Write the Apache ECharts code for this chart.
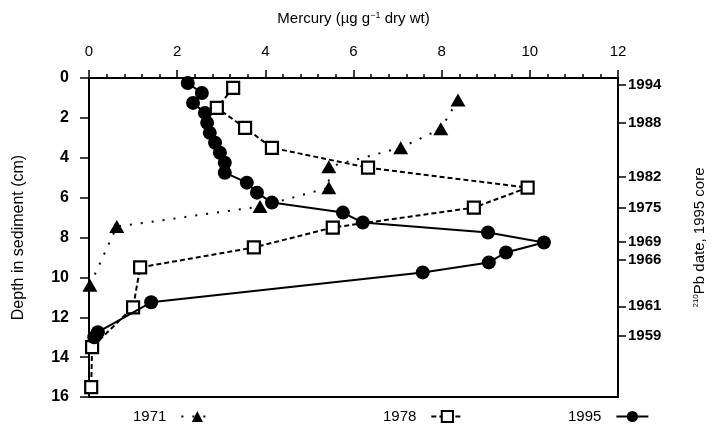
<!DOCTYPE html>
<html>
<head>
<meta charset="utf-8">
<script src="https://cdn.jsdelivr.net/npm/echarts@6/dist/echarts.min.js"></script>
<style>
  html, body { margin: 0; padding: 0; background: #fff; }
  #chart { width: 713px; height: 433px; }
</style>
</head>
<body>
<div id="chart"></div>
<script>
// Mercury profiles in sediment cores (µg g-1 dry wt) against depth (cm)
const mercury1971 = [8.37, 7.98, 7.07, 5.44, 5.44, 3.88, 0.63, 0.02];
const depth1971   = [1.1, 2.55, 3.5, 4.45, 5.5, 6.45, 7.45, 10.4];

const mercury1978 = [3.27, 2.90, 3.54, 4.15, 6.33, 9.95, 8.73, 5.53, 3.74, 1.16, 1.00, 0.07, 0.05];
const depth1978   = [0.5, 1.5, 2.5, 3.5, 4.5, 5.5, 6.5, 7.5, 8.5, 9.5, 11.5, 13.5, 15.5];

const mercury1995 = [2.24, 2.56, 2.36, 2.63, 2.68, 2.74, 2.86, 2.97, 3.08, 3.08,
                     3.58, 3.81, 4.15, 5.76, 6.21, 9.05, 10.32, 9.46, 9.07, 7.57,
                     1.41, 0.20, 0.12];
const depth1995   = [0.25, 0.75, 1.25, 1.75, 2.25, 2.75, 3.25, 3.75, 4.25, 4.75,
                     5.25, 5.75, 6.25, 6.75, 7.25, 7.75, 8.25, 8.75, 9.25, 9.75,
                     11.25, 12.75, 13.0];

// 210Pb dates of the 1995 core and the depths they sit at
const dateYears  = ['1994', '1988', '1982', '1975', '1969', '1966', '1961', '1959'];
const dateDepths = [0.35, 2.25, 4.95, 6.5, 8.2, 9.1, 11.45, 12.95];

const seriesNames = ['1971', '1978', '1995'];

const pairs = (xs, ys) => xs.map((x, i) => [x, ys[i]]);

const chart = echarts.init(document.getElementById('chart'), null, { renderer: 'canvas' });

const baseFont = 'Liberation Sans, Arial, Helvetica, sans-serif';

const legendCommon = {
  orient: 'horizontal',
  align: 'right',
  top: 404,
  itemWidth: 32,
  itemHeight: 14,
  textStyle: { fontFamily: baseFont, fontSize: 15, color: '#000', padding: [0, 10, 0, 0] },
  selectedMode: false
};

chart.setOption({
  backgroundColor: '#fff',
  animation: false,
  grid: { left: 89, right: 95, top: 78, bottom: 36, containLabel: false, outerBoundsMode: 'none' },
  xAxis: [
    {
      type: 'value',
      position: 'top',
      min: 0, max: 12, interval: 2,
      name: 'Mercury (µg g{sup|−1} dry wt)',
      nameLocation: 'middle',
      nameGap: 51,
      nameTextStyle: {
        fontFamily: baseFont, fontSize: 15, color: '#000',
        rich: { sup: { fontFamily: baseFont, fontSize: 9, color: '#000', padding: [0, 0, 7, 0] } }
      },
      axisLine: { show: true, onZero: false, lineStyle: { color: '#000', width: 2 } },
      axisTick: { show: true, inside: false, length: 8, lineStyle: { color: '#000', width: 1.5 } },
      minorTick: { show: true, splitNumber: 5, length: 4, lineStyle: { color: '#000', width: 1.5 } },
      axisLabel: { fontFamily: baseFont, fontSize: 15, color: '#000', margin: 19 },
      splitLine: { show: false }
    },
    {
      type: 'value',
      position: 'bottom',
      min: 0, max: 12,
      axisLine: { show: true, onZero: false, lineStyle: { color: '#000', width: 2 } },
      axisTick: { show: false },
      axisLabel: { show: false },
      splitLine: { show: false }
    }
  ],
  yAxis: [
    {
      type: 'value',
      position: 'left',
      inverse: true,
      min: 0, max: 16, interval: 2,
      name: 'Depth in sediment (cm)',
      nameLocation: 'middle',
      nameRotate: 90,
      nameGap: 62,
      nameTextStyle: { fontFamily: baseFont, fontSize: 16, color: '#000' },
      axisLine: { show: true, onZero: false, lineStyle: { color: '#000', width: 2 } },
      axisTick: { show: true, inside: false, length: 9, lineStyle: { color: '#000', width: 1.5 } },
      axisLabel: { fontFamily: baseFont, fontSize: 16, fontWeight: 'bold', color: '#000', margin: 20 },
      splitLine: { show: false }
    },
    {
      type: 'value',
      position: 'right',
      inverse: true,
      min: 0, max: 16,
      name: '{sup|210}Pb date, 1995 core',
      nameLocation: 'middle',
      nameRotate: 90,
      nameGap: 74,
      nameTextStyle: {
        fontFamily: baseFont, fontSize: 15, color: '#000',
        rich: { sup: { fontFamily: baseFont, fontSize: 8, color: '#000', padding: [0, 0, 8, 0] } }
      },
      axisLine: { show: true, onZero: false, lineStyle: { color: '#000', width: 2 } },
      axisTick: {
        show: true, inside: false, length: 8,
        customValues: dateDepths,
        lineStyle: { color: '#000', width: 1.5 }
      },
      axisLabel: {
        customValues: dateDepths,
        formatter: (v) => {
          const i = dateDepths.findIndex(d => Math.abs(d - v) < 1e-6);
          return i >= 0 ? dateYears[i] : '';
        },
        fontFamily: baseFont, fontSize: 15, fontWeight: 'bold', color: '#000', margin: 10
      },
      splitLine: { show: false }
    }
  ],
  legend: [
    Object.assign({ data: [seriesNames[0]], left: 128 }, legendCommon),
    Object.assign({ data: [seriesNames[1]], left: 378 }, legendCommon),
    Object.assign({ data: [seriesNames[2]], left: 563 }, legendCommon)
  ],
  series: [
    {
      name: seriesNames[0],
      type: 'line',
      xAxisIndex: 0, yAxisIndex: 0,
      data: pairs(mercury1971, depth1971),
      symbol: 'triangle',
      symbolSize: [15, 13],
      itemStyle: { color: '#000', borderColor: '#000', borderWidth: 0 },
      lineStyle: { color: '#000', width: 2, type: [2, 9] },
      z: 2
    },
    {
      name: seriesNames[1],
      type: 'line',
      xAxisIndex: 0, yAxisIndex: 0,
      data: pairs(mercury1978, depth1978),
      symbol: 'rect',
      symbolSize: 12,
      itemStyle: { color: '#fff', borderColor: '#000', borderWidth: 2.2 },
      lineStyle: { color: '#000', width: 2, type: [5, 3] },
      z: 3
    },
    {
      name: seriesNames[2],
      type: 'line',
      xAxisIndex: 0, yAxisIndex: 0,
      data: pairs(mercury1995, depth1995),
      symbol: 'circle',
      symbolSize: 14,
      itemStyle: { color: '#000', borderColor: '#000', borderWidth: 0 },
      lineStyle: { color: '#000', width: 2, type: 'solid' },
      z: 4
    }
  ]
});
</script>
</body>
</html>
